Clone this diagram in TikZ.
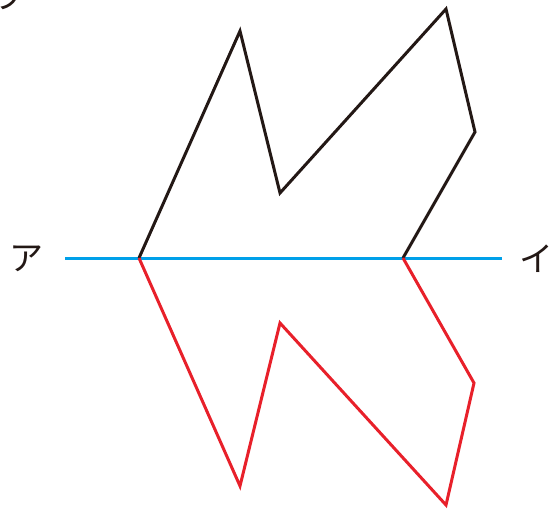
\documentclass[tikz,border=0pt]{standalone}
\usepackage{fontspec}
\newfontfamily\jpfont{Noto Sans CJK JP}
\usepackage{tikz}
\usetikzlibrary{positioning}
\definecolor{axisblue}{HTML}{00A0E9}
\definecolor{mirrorred}{HTML}{E8202A}
\definecolor{inkblack}{HTML}{231815}
\tikzset{
  axis/.style={draw=axisblue, line width=1.5pt},
  shapeline/.style={draw=inkblack, line width=1.5pt, line join=miter},
  mirrorline/.style={draw=mirrorred, line width=1.5pt, line join=miter},
  lbl/.style={font=\jpfont\fontsize{17}{17}\selectfont, text=inkblack, inner sep=0pt},
}

\begin{document}
\begin{tikzpicture}[x=0.5pt, y=-0.5pt]
\useasboundingbox (0,0) rectangle (555,508);
\clip (0,0) rectangle (555,508);

% axis of symmetry
\coordinate (axL) at (65,258);
\coordinate (axR) at (502,258);
\draw[axis] (axL) -- (axR);

% original figure
\coordinate (pA) at (139,258);
\coordinate (pB) at (240,31);
\coordinate (pC) at (280,193);
\coordinate (pD) at (446,9);
\coordinate (pE) at (475,132);
\coordinate (pF) at (403,258);
\draw[shapeline] (pA) -- (pB) -- (pC) -- (pD) -- (pE) -- (pF);

% reflected figure
\coordinate (qB) at (240,486);
\coordinate (qC) at (280,323);
\coordinate (qD) at (446,505);
\coordinate (qE) at (474,383);
\draw[mirrorline] (pA) -- (qB) -- (qC) -- (qD) -- (qE) -- (pF);

% labels
\node[lbl] (labA) at (27,259) {ア};
\node[lbl] (labI) at (536,259) {イ};
\node[lbl] (labU) at (7,-4) {ウ};
\end{tikzpicture}
\end{document}
